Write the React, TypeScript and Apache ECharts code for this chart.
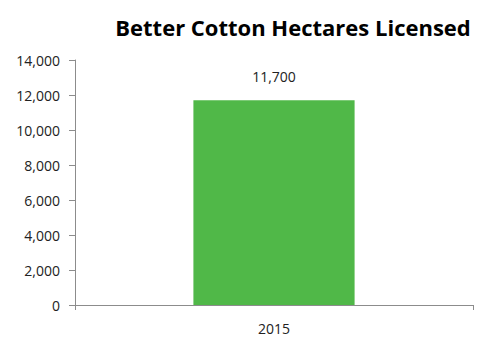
import React, { useEffect, useRef } from "react";
import * as echarts from "echarts";

const categories = ["2015"];
const hectares = [11700];
const yTicks = { min: 0, max: 14000, interval: 2000 };
const title = "Better Cotton Hectares Licensed";

export default function App() {
  const ref = useRef<HTMLDivElement>(null);
  useEffect(() => {
    if (!ref.current) return;
    const chart = echarts.init(ref.current, undefined, { renderer: "svg" });
    const font = "'Open Sans', sans-serif";
    chart.setOption({
      animation: false,
      title: {
        text: title,
        left: 288,
        top: 11,
        textAlign: "center",
        textStyle: { fontFamily: font, fontWeight: "bold", fontSize: 22, color: "#000" },
      },
      grid: { left: 75, right: 4, top: 60, bottom: 35, containLabel: false },
      xAxis: {
        type: "category",
        data: categories,
        boundaryGap: true,
        axisLine: { lineStyle: { color: "#8c8c8c", width: 1 } },
        axisTick: { show: true, length: 5, lineStyle: { color: "#8c8c8c" } },
        axisLabel: { fontFamily: font, fontSize: 14, color: "#222", margin: 16 },
      },
      yAxis: {
        type: "value",
        min: yTicks.min,
        max: yTicks.max,
        interval: yTicks.interval,
        axisLine: { show: true, lineStyle: { color: "#8c8c8c", width: 1 } },
        axisTick: { show: true, length: 6, lineStyle: { color: "#8c8c8c" } },
        splitLine: { show: false },
        axisLabel: {
          fontFamily: font,
          fontSize: 14,
          color: "#222",
          margin: 15,
          formatter: (v: number) => v.toLocaleString("en-US"),
        },
      },
      series: [
        {
          type: "bar",
          data: hectares,
          barWidth: "40.5%",
          itemStyle: { color: "#50B848" },
          label: {
            show: true,
            position: "top",
            distance: 17,
            fontFamily: font,
            fontSize: 14,
            color: "#222",
            formatter: (p: any) => Number(p.value).toLocaleString("en-US"),
          },
        },
      ],
    });
    return () => chart.dispose();
  }, []);
  return (
    <div
      ref={ref}
      style={{ position: "fixed", left: 0, top: 0, width: 477, height: 340, background: "#fff" }}
    />
  );
}
